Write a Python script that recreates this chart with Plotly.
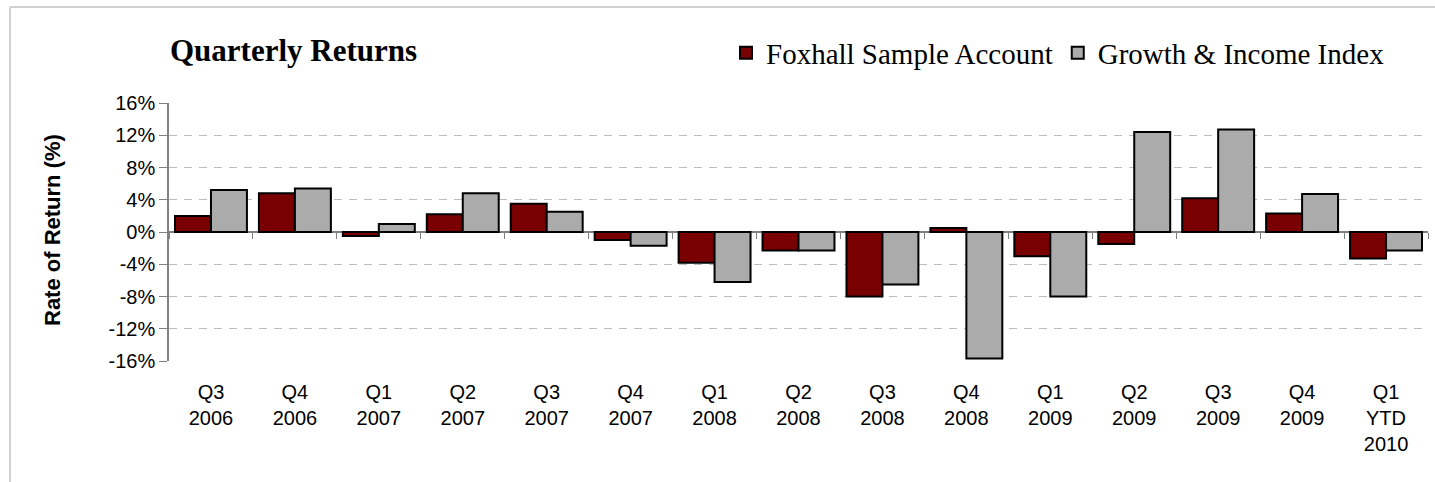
import plotly.graph_objects as go

quarters = ["Q3<br>2006", "Q4<br>2006", "Q1<br>2007", "Q2<br>2007", "Q3<br>2007",
            "Q4<br>2007", "Q1<br>2008", "Q2<br>2008", "Q3<br>2008", "Q4<br>2008",
            "Q1<br>2009", "Q2<br>2009", "Q3<br>2009", "Q4<br>2009", "Q1<br>YTD<br>2010"]
foxhall = [2.0, 4.8, -0.5, 2.2, 3.5, -1.0, -3.8, -2.3, -8.0, 0.5, -3.0, -1.5, 4.2, 2.3, -3.3]
index_gi = [5.2, 5.4, 1.0, 4.8, 2.5, -1.7, -6.2, -2.3, -6.5, -15.7, -8.0, 12.4, 12.7, 4.7, -2.3]
y_ticks = [-16, -12, -8, -4, 0, 4, 8, 12, 16]
y_tick_text = [f"{v}%" for v in y_ticks]

W, H = 1435, 482
L, R, T, B = 169, 7, 103, 121
pw, ph = W - L - R, H - T - B


def px_x(p):
    return (p - L) / pw


def px_y(p):
    return (H - B - p) / ph


fig = go.Figure()
fig.add_trace(go.Bar(name="Foxhall Sample Account", x=quarters, y=foxhall,
                     marker=dict(color="#780000", line=dict(color="#000000", width=2))))
fig.add_trace(go.Bar(name="Growth & Income Index", x=quarters, y=index_gi,
                     marker=dict(color="#ABABAB", line=dict(color="#000000", width=2))))
fig.add_trace(go.Scatter(x=[], y=[], xaxis="x2", showlegend=False, hoverinfo="skip"))

fig.update_layout(
    width=W, height=H,
    margin=dict(l=L, r=R, t=T, b=B, autoexpand=False),
    paper_bgcolor="white", plot_bgcolor="white",
    barmode="group", bargap=0.143, bargroupgap=0,
    font=dict(family="Liberation Sans, Arial", size=20, color="#000000"),
    title=dict(text="<b>Quarterly Returns</b>", x=170 / W, xanchor="left",
               y=1 - 50 / H, yanchor="middle",
               font=dict(family="Liberation Serif, serif", size=31, color="#000000")),
    legend=dict(orientation="h", x=px_x(1390), xanchor="right", y=px_y(53), yanchor="middle",
                font=dict(family="Liberation Serif, serif", size=29, color="#000000"),
                itemwidth=30, tracegroupgap=0, bgcolor="rgba(0,0,0,0)"),
    xaxis=dict(type="category", showgrid=False, showline=False, ticks="",
               ticklabelstandoff=17,
               tickfont=dict(family="Liberation Sans, Arial", size=20)),
    xaxis2=dict(overlaying="x", anchor="free", position=0.5, range=[-0.5, 14.5],
                showticklabels=False, showgrid=False, showline=False, zeroline=False,
                ticks="outside", ticklen=6, tickcolor="#808080", tickwidth=1,
                tick0=0.5, dtick=1),
    yaxis=dict(range=[-16, 16], tickvals=y_ticks, ticktext=y_tick_text,
               showgrid=True, gridcolor="#BDBDBD", griddash="8px,7px", gridwidth=1,
               zeroline=True, zerolinecolor="#808080", zerolinewidth=1.5,
               showline=True, linecolor="#808080", linewidth=1.5,
               ticks="outside", ticklen=8, tickcolor="#808080",
               tickfont=dict(family="Liberation Sans, Arial", size=20)),
    annotations=[dict(text="<b>Rate of Return (%)</b>", textangle=-90,
                      x=px_x(52), y=px_y(230), xref="paper", yref="paper",
                      showarrow=False, xanchor="center", yanchor="middle",
                      font=dict(family="Liberation Sans, Arial", size=22, color="#000000"))],
    shapes=[dict(type="line", xref="paper", yref="paper", x0=px_x(10), x1=px_x(1440),
                 y0=px_y(7), y1=px_y(7), line=dict(color="#D0D0D0", width=2)),
            dict(type="line", xref="paper", yref="paper", x0=px_x(10), x1=px_x(10),
                 y0=px_y(7), y1=px_y(490), line=dict(color="#D0D0D0", width=2))],
)

fig.write_html("out.html", config={"displayModeBar": False},
               post_script="document.body.style.margin='0';")
